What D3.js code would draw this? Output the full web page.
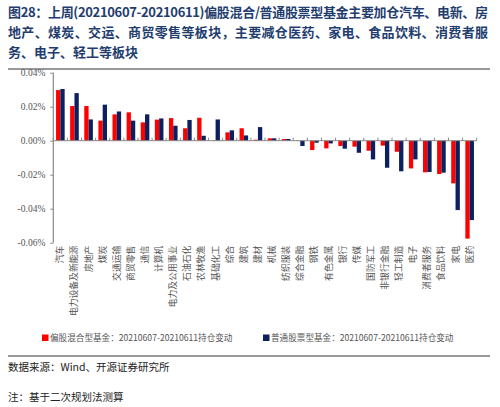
<!DOCTYPE html>
<html>
<head>
<meta charset="utf-8">
<script src="https://cdn.jsdelivr.net/npm/d3@7"></script>
<style>
  body { margin: 0; background: #fff; }
  .title { font-family: "Noto Sans CJK SC", sans-serif; font-weight: bold; font-size: 13px; fill: #1f3d6e; }
  .tick-label { font-family: "Liberation Serif", serif; font-size: 9.5px; fill: #555; }
  .cat-label { font-family: "Noto Sans CJK SC", sans-serif; font-size: 8.8px; fill: #555; }
  .legend-label { font-family: "Noto Sans CJK SC", sans-serif; font-size: 8.6px; fill: #555; }
  .note { font-family: "Noto Sans CJK SC", sans-serif; font-size: 10.5px; fill: #222; }
</style>
</head>
<body>
<div id="chart"></div>
<script>
// Sectors (x axis)
const categories = ['汽车', '电力设备及新能源', '房地产', '煤炭', '交通运输', '商贸零售', '通信', '计算机',
  '电力及公用事业', '石油石化', '农林牧渔', '基础化工', '综合', '建筑', '建材', '机械', '纺织服装',
  '综合金融', '钢铁', '有色金属', '银行', '传媒', '国防军工', '非银行金融', '轻工制造', '电子',
  '消费者服务', '食品饮料', '家电', '医药'];

// Position change in %, 偏股混合型基金
const hybridValues = [0.0298, 0.0204, 0.0204, 0.0118, 0.0155, 0.0167, 0.0108, 0.0124, 0.0133, 0.0073,
  0.0135, 0.0002, 0.0049, 0.0073, 0.0006, 0.0014, 0.0010, -0.0002, -0.0055, -0.0045,
  -0.0031, -0.0035, -0.0059, -0.0029, -0.0065, -0.0163, -0.0186, -0.0196, -0.0251, -0.0576];

// Position change in %, 普通股票型基金
const stockValues = [0.0304, 0.0280, 0.0125, 0.0212, 0.0172, 0.0118, 0.0155, 0.0131, 0.0088, 0.0122,
  0.0029, 0.0125, 0.0061, 0.0031, 0.0080, 0.0014, 0.0010, -0.0031, -0.0012, -0.0016,
  -0.0047, -0.0071, -0.0110, -0.0159, -0.0180, -0.0110, -0.0184, -0.0188, -0.0408, -0.0467];

const seriesNames = ['偏股混合型基金：20210607-20210611持仓变动', '普通股票型基金：20210607-20210611持仓变动'];
const yTicks = [0.04, 0.02, 0, -0.02, -0.04, -0.06];

const titleLines = [
  '图28：上周(20210607-20210611)偏股混合/普通股票型基金主要加仓汽车、电新、房',
  '地产、煤炭、交运、商贸零售等板块，主要减仓医药、家电、食品饮料、消费者服',
  '务、电子、轻工等板块'
];
const sourceText = '数据来源：Wind、开源证券研究所';
const noteText = '注：基于二次规划法测算';

class GroupedBarChart {
  constructor(_config) {
    this.config = {
      parentElement: _config.parentElement,
      containerWidth: 500,
      containerHeight: 407,
      plot: { left: 53.3, right: 476.7, top: 72.7, bottom: 242.7 },
      colors: ['#ff0000', '#0c1f5e']
    };
    this.initVis();
  }

  initVis() {
    let vis = this;
    const c = vis.config;

    vis.svg = d3.select(c.parentElement).append('svg')
      .attr('width', c.containerWidth)
      .attr('height', c.containerHeight);

    // Title, three lines; first two are justified to the rule width
    const widths = [480, 480, null];
    titleLines.forEach((line, i) => {
      const t = vis.svg.append('text')
        .attr('class', 'title')
        .attr('x', 8)
        .attr('y', 17 + i * 20)
        .text(line);
      if (widths[i]) t.attr('textLength', widths[i]).attr('lengthAdjust', 'spacing');
    });

    vis.svg.append('line')
      .attr('x1', 8).attr('x2', 490).attr('y1', 69).attr('y2', 69)
      .attr('stroke', '#777').attr('stroke-width', 1.3);

    // Scales
    vis.xScale = d3.scaleBand()
      .domain(categories)
      .range([c.plot.left, c.plot.right])
      .paddingInner(0.39)
      .paddingOuter(0.195);

    vis.xSub = d3.scaleBand()
      .domain([0, 1])
      .range([0, vis.xScale.bandwidth()]);

    vis.yScale = d3.scaleLinear()
      .domain([-0.06, 0.04])
      .range([c.plot.bottom, c.plot.top]);

    vis.renderVis();
  }

  renderVis() {
    let vis = this;
    const c = vis.config;
    const zeroY = vis.yScale(0);

    // Bars
    [hybridValues, stockValues].forEach((values, s) => {
      vis.svg.append('g').selectAll('rect')
        .data(values)
        .join('rect')
        .attr('x', (d, i) => vis.xScale(categories[i]) + vis.xSub(s))
        .attr('width', vis.xSub.bandwidth())
        .attr('y', d => Math.min(vis.yScale(d), zeroY))
        .attr('height', d => Math.abs(vis.yScale(d) - zeroY))
        .attr('fill', c.colors[s]);
    });

    // Y axis
    const yAxis = d3.axisLeft(vis.yScale)
      .tickValues(yTicks)
      .tickSize(3)
      .tickFormat(d => d.toFixed(2) + '%');

    const yAxisGroup = vis.svg.append('g')
      .attr('transform', `translate(${c.plot.left},0)`)
      .call(yAxis);
    yAxisGroup.select('.domain').attr('stroke', '#888').attr('stroke-width', 1.2)
      .attr('d', `M0,${c.plot.bottom}V${c.plot.top}`);
    yAxisGroup.selectAll('.tick line').attr('stroke', '#888');
    yAxisGroup.selectAll('.tick text')
      .attr('class', 'tick-label')
      .attr('x', -8)
      .attr('dy', '0.32em');

    // X axis along zero with category boundary ticks
    const xAxisGroup = vis.svg.append('g');
    xAxisGroup.append('line')
      .attr('x1', c.plot.left).attr('x2', c.plot.right)
      .attr('y1', zeroY).attr('y2', zeroY)
      .attr('stroke', '#888').attr('stroke-width', 1);
    const step = vis.xScale.step();
    const bounds = d3.range(categories.length + 1).map(i => c.plot.left + i * step);
    xAxisGroup.selectAll('.xtick')
      .data(bounds)
      .join('line')
      .attr('class', 'xtick')
      .attr('x1', d => d).attr('x2', d => d)
      .attr('y1', zeroY - 3).attr('y2', zeroY)
      .attr('stroke', '#888');

    // Category labels, rotated, below the plot
    vis.svg.append('g').selectAll('text')
      .data(categories)
      .join('text')
      .attr('class', 'cat-label')
      .attr('text-anchor', 'end')
      .attr('transform', d => `translate(${vis.xScale(d) + vis.xScale.bandwidth() / 2 + 3},${c.plot.bottom + 3}) rotate(-90)`)
      .text(d => d);

    // Legend
    const legendX = [42, 263];
    seriesNames.forEach((name, s) => {
      const g = vis.svg.append('g').attr('transform', `translate(${legendX[s]},341)`);
      g.append('rect').attr('x', 0).attr('y', -6.5).attr('width', 6.5).attr('height', 6.5).attr('fill', c.colors[s]);
      g.append('text').attr('class', 'legend-label').attr('x', 8).attr('y', 0).text(name);
    });

    vis.svg.append('line')
      .attr('x1', 8).attr('x2', 490).attr('y1', 356).attr('y2', 356)
      .attr('stroke', '#777').attr('stroke-width', 1.3);

    vis.svg.append('text').attr('class', 'note').attr('x', 8).attr('y', 371).text(sourceText);
    vis.svg.append('text').attr('class', 'note').attr('x', 8).attr('y', 401).text(noteText);
  }
}

new GroupedBarChart({ parentElement: '#chart' });
</script>
</body>
</html>
